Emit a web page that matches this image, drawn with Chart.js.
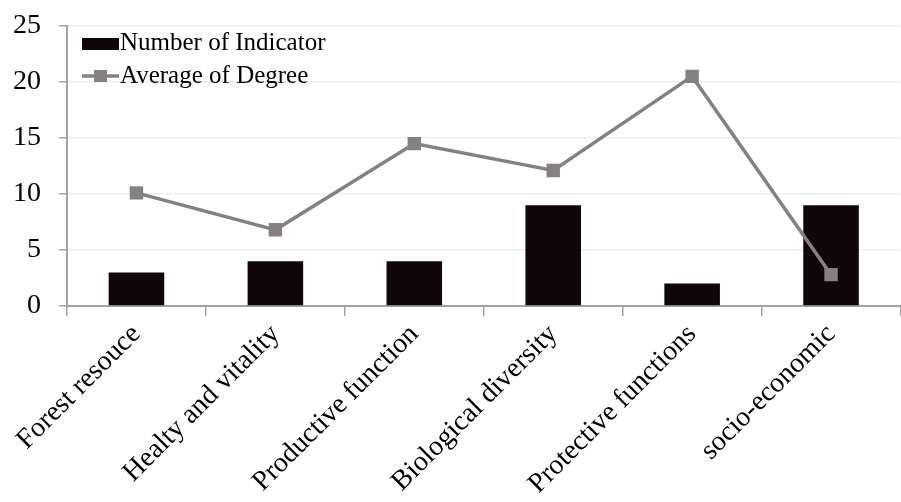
<!DOCTYPE html>
<html>
<head>
<meta charset="utf-8">
<script src="https://cdn.jsdelivr.net/npm/chart.js@4.4.0/dist/chart.umd.min.js"></script>
<style>
  html, body { margin: 0; padding: 0; background: #fff; overflow: hidden; }
  #wrap { width: 910px; height: 502px; }
</style>
</head>
<body>
<div id="wrap"><canvas id="myChart"></canvas></div>
<script>
const categories = [
  "Forest resouce",
  "Healty and vitality",
  "Productive function",
  "Biological diversity",
  "Protective functions",
  "socio-economic",
];
const numberOfIndicator = [3, 4, 4, 9, 2, 9];
const averageOfDegree = [10.1, 6.8, 14.5, 12.1, 20.5, 2.8];
const yTicks = [0, 5, 10, 15, 20, 25];

const serif = "'Liberation Serif', 'Times New Roman', serif";
const barColor = "#110609";
const lineColor = "#858081";
const axisColor = "#a3a3a3";

// legend sits inside the plot, top-left, so draw it by hand
const insideLegend = {
  id: "insideLegend",
  afterDraw(chart) {
    const ctx = chart.ctx;
    const x0 = chart.chartArea.left + 15;
    const y0 = chart.chartArea.top;
    const barSet = chart.data.datasets.find((d) => d.type === "bar");
    const lineSet = chart.data.datasets.find((d) => d.type === "line");
    ctx.save();
    ctx.fillStyle = barColor;
    ctx.fillRect(x0, y0 + 12, 37, 12);

    ctx.strokeStyle = lineColor;
    ctx.lineWidth = 3.5;
    ctx.beginPath();
    ctx.moveTo(x0, y0 + 50);
    ctx.lineTo(x0 + 37, y0 + 50);
    ctx.stroke();
    ctx.fillStyle = lineColor;
    ctx.fillRect(x0 + 12, y0 + 44, 13, 12);

    ctx.fillStyle = "#000";
    ctx.font = "25px " + serif;
    ctx.textBaseline = "alphabetic";
    ctx.fillText(barSet.label, x0 + 38, y0 + 24);
    ctx.fillText(lineSet.label, x0 + 38, y0 + 57);
    ctx.restore();
  },
};

const ctx = document.getElementById("myChart");
const myChart = new Chart(ctx, {
  data: {
    labels: categories,
    datasets: [
      {
        type: "line",
        label: "Average of Degree",
        data: averageOfDegree,
        borderColor: lineColor,
        backgroundColor: lineColor,
        borderWidth: 3.5,
        pointStyle: "rect",
        pointRadius: 9.5,
        pointHoverRadius: 9.5,
        pointBorderWidth: 0,
        tension: 0,
        order: 0,
      },
      {
        type: "bar",
        label: "Number of Indicator",
        data: numberOfIndicator,
        backgroundColor: barColor,
        barPercentage: 0.4,
        categoryPercentage: 1,
        order: 1,
      },
    ],
  },
  options: {
    responsive: true,
    maintainAspectRatio: false,
    animation: false,
    layout: { padding: { top: 26, right: 3, left: 0, bottom: 0 } },
    plugins: {
      legend: { display: false },
      tooltip: { enabled: false },
    },
    scales: {
      x: {
        offset: true,
        grid: {
          offset: true,
          drawOnChartArea: false,
          tickLength: 10,
          color: axisColor,
          lineWidth: 1.5,
        },
        border: { color: axisColor, width: 2 },
        ticks: {
          color: "#000",
          font: { family: serif, size: 28 },
          maxRotation: 45,
          minRotation: 45,
          padding: 2,
        },
        afterFit(scale) {
          scale.height = 196;
        },
      },
      y: {
        min: 0,
        max: 25,
        afterBuildTicks(scale) {
          scale.ticks = yTicks.map((v) => ({ value: v }));
        },
        grid: {
          color: "#efefef",
          tickColor: axisColor,
          tickLength: 8,
          lineWidth: 1.5,
        },
        border: { color: axisColor, width: 2 },
        ticks: {
          color: "#000",
          font: { family: serif, size: 28 },
          padding: 18,
        },
        afterFit(scale) {
          scale.width = 67;
          scale.paddingTop = 0;
          scale.paddingBottom = 0;
        },
      },
    },
  },
  plugins: [insideLegend],
});
</script>
</body>
</html>
